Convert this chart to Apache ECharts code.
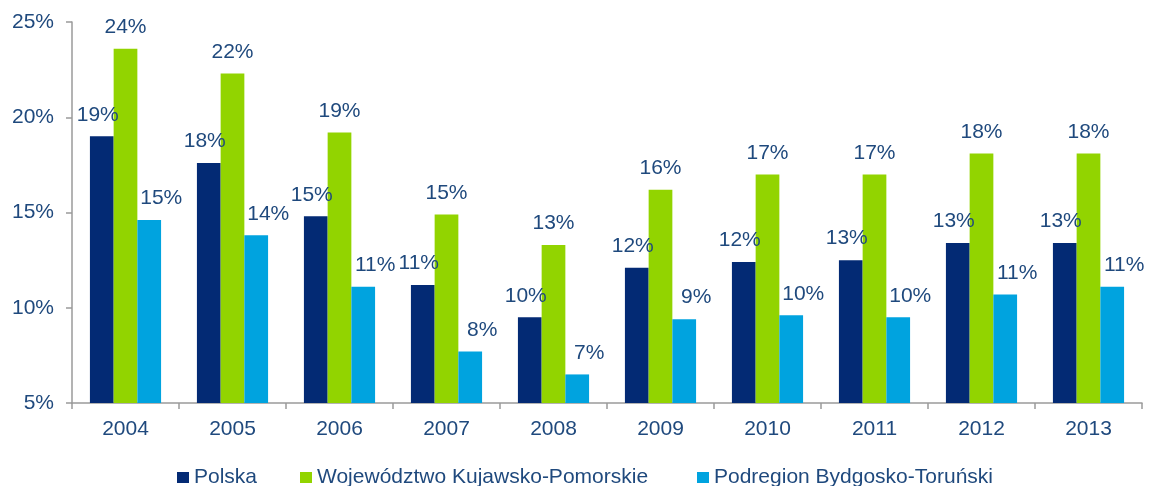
<!DOCTYPE html>
<html>
<head>
<meta charset="utf-8">
<script src="https://cdn.jsdelivr.net/npm/echarts@6/dist/echarts.min.js"></script>
<style>
  html, body { margin: 0; padding: 0; background: #fff; }
  #chart { width: 1151px; height: 486px; }
</style>
</head>
<body>
<div id="chart"></div>
<script>
// lata
var years = ['2004', '2005', '2006', '2007', '2008', '2009', '2010', '2011', '2012', '2013'];
// serie (%)
var polska = [19.0, 17.6, 14.8, 11.2, 9.5, 12.1, 12.4, 12.5, 13.4, 13.4];
var kujawsko = [23.6, 22.3, 19.2, 14.9, 13.3, 16.2, 17.0, 17.0, 18.1, 18.1];
var podregion = [14.6, 13.8, 11.1, 7.7, 6.5, 9.4, 9.6, 9.5, 10.7, 11.1];
var names = ['Polska', 'Województwo Kujawsko-Pomorskie', 'Podregion Bydgosko-Toruński'];

var font = 'Liberation Sans, Arial, sans-serif';
var txt = '#1F497D';

var myChart = echarts.init(document.getElementById('chart'));

function label(dx) {
    return {
        show: true,
        position: 'top',
        distance: 11,
        offset: [dx, 0],
        color: txt,
        fontSize: 21,
        fontFamily: font,
        formatter: function (p) { return Math.round(p.value) + '%'; }
    };
}

function legend(i, left) {
    return {
        data: [names[i]],
        left: left,
        top: 467,
        icon: 'rect',
        itemWidth: 12,
        itemHeight: 11,
        itemGap: 0,
        padding: 0,
        textStyle: { color: txt, fontSize: 21, fontFamily: font, padding: [0, 0, 0, 0] }
    };
}

var option = {
    animation: false,
    grid: { left: 72, right: 9, top: 22, bottom: 83 },
    legend: [legend(0, 177), legend(1, 300), legend(2, 697)],
    xAxis: {
        type: 'category',
        data: years,
        axisLine: { lineStyle: { color: '#9A9A9A', width: 1.5 } },
        axisTick: { show: true, length: 6, lineStyle: { color: '#9A9A9A', width: 1.5 } },
        axisLabel: { color: txt, fontSize: 21, fontFamily: font, margin: 16 }
    },
    yAxis: {
        type: 'value',
        min: 5,
        max: 25,
        interval: 5,
        splitLine: { show: false },
        axisLine: { show: true, lineStyle: { color: '#9A9A9A', width: 1.5 } },
        axisTick: { show: true, length: 6, lineStyle: { color: '#9A9A9A', width: 1.5 } },
        axisLabel: { color: txt, fontSize: 21, fontFamily: font, margin: 18, formatter: '{value}%' }
    },
    series: [{
        name: names[0],
        type: 'bar',
        barGap: '0%',
        barCategoryGap: '33.5%',
        itemStyle: { color: '#032A74' },
        label: label(-4),
        data: polska
    }, {
        name: names[1],
        type: 'bar',
        itemStyle: { color: '#92D400' },
        label: label(0),
        data: kujawsko
    }, {
        name: names[2],
        type: 'bar',
        itemStyle: { color: '#00A3DF' },
        label: label(12),
        data: podregion
    }]
};

myChart.setOption(option);
</script>
</body>
</html>
